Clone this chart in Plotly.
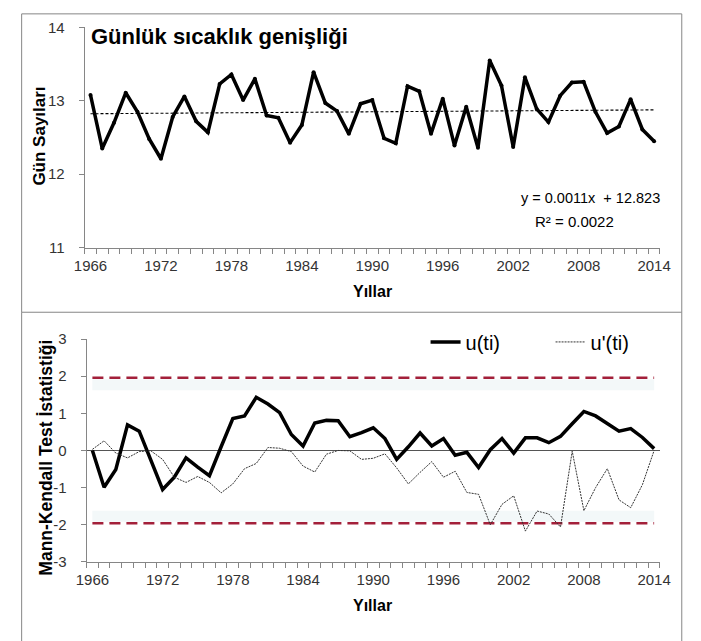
import plotly.graph_objects as go

# ---- data -------------------------------------------------------------
years = list(range(1966, 2015))

# Günlük sıcaklık genişliği (annual values)
gunluk_genislik = [
    13.08, 12.35, 12.70, 13.11, 12.85, 12.48, 12.21, 12.78, 13.06, 12.72,
    12.57, 13.23, 13.36, 13.01, 13.30, 12.80, 12.77, 12.43, 12.67, 13.39,
    12.97, 12.86, 12.55, 12.96, 13.01, 12.49, 12.42, 13.20, 13.13, 12.55,
    13.03, 12.39, 12.92, 12.36, 13.55, 13.21, 12.37, 13.32, 12.89, 12.71,
    13.07, 13.25, 13.26, 12.85, 12.56, 12.65, 13.02, 12.61, 12.45,
]

# linear trend  y = a*x + b  (x = 1..n)
trend_slope = 0.0011
trend_intercept = 12.823
r_squared = 0.0022

# Mann-Kendall sequential statistics
u_ti = [
    0.00, -0.99, -0.51, 0.69, 0.52, -0.25, -1.05, -0.72, -0.20, -0.45,
    -0.68, 0.10, 0.86, 0.93, 1.43, 1.25, 1.02, 0.43, 0.12, 0.74,
    0.81, 0.80, 0.37, 0.48, 0.61, 0.32, -0.24, 0.10, 0.47, 0.12,
    0.32, -0.13, -0.05, -0.46, 0.02, 0.32, -0.07, 0.34, 0.34, 0.21,
    0.38, 0.72, 1.05, 0.93, 0.72, 0.52, 0.59, 0.35, 0.05,
]
u_prime_ti = [
    0.03, 0.26, -0.07, -0.20, -0.03, -0.01, -0.24, -0.72, -0.86, -0.70,
    -0.86, -1.14, -0.90, -0.49, -0.35, 0.08, 0.06, -0.03, -0.42, -0.58,
    -0.10, 0.00, -0.01, -0.24, -0.21, -0.09, -0.47, -0.90, -0.59, -0.30,
    -0.72, -0.56, -1.13, -1.18, -2.00, -1.45, -1.22, -2.17, -1.63, -1.71,
    -2.06, -0.02, -1.62, -1.00, -0.49, -1.33, -1.54, -0.92, 0.00,
]
critical_z = 1.96

x_tick_years = list(range(1966, 2015, 6))
top_y_ticks = [11, 12, 13, 14]
bottom_y_ticks = [-3, -2, -1, 0, 1, 2, 3]

# ---- helpers ------------------------------------------------------------
W, H = 701, 641


def px_x(p):
    return p / W


def px_y(p):
    return 1 - p / H


FONT = "Liberation Sans, Arial, sans-serif"
AXIS_GRAY = "#868686"
TICK_FONT = dict(family=FONT, size=15, color="#333333")
RED = "#A3203A"

n = len(years)
trend_vals = [trend_intercept + trend_slope * (i + 1) for i in range(n)]

fig = go.Figure()

# top panel
fig.add_trace(go.Scatter(
    x=years, y=gunluk_genislik, mode="lines+markers",
    line=dict(color="black", width=3.5), marker=dict(color="black", size=4),
    xaxis="x", yaxis="y", showlegend=False, hoverinfo="x+y"))
fig.add_trace(go.Scatter(
    x=years, y=trend_vals, mode="lines",
    line=dict(color="black", width=1.1, dash="3px,2px"),
    xaxis="x", yaxis="y", showlegend=False))

# bottom panel: critical bounds
for sign in (1, -1):
    fig.add_trace(go.Scatter(
        x=years, y=[sign * critical_z] * n, mode="lines",
        line=dict(color=RED, width=2.5, dash="11px,6px"),
        xaxis="x2", yaxis="y2", showlegend=False, hoverinfo="skip"))

fig.add_trace(go.Scatter(
    x=years, y=u_ti, mode="lines", name="u(ti)",
    line=dict(color="black", width=3.5),
    xaxis="x2", yaxis="y2"))
fig.add_trace(go.Scatter(
    x=years, y=u_prime_ti, mode="lines", name="u'(ti)",
    line=dict(color="#333333", width=1, dash="2px,1px"),
    xaxis="x2", yaxis="y2"))

x_common = dict(
    range=[years[0] - 0.5, years[-1] + 0.5],
    tickmode="array", tickvals=x_tick_years,
    ticktext=[str(v) for v in x_tick_years],
    ticks="", tickfont=TICK_FONT,
    showgrid=False, zeroline=False,
    showline=True, linecolor=AXIS_GRAY, linewidth=1,
    minor=dict(ticks="outside", ticklen=5, tickcolor=AXIS_GRAY,
               tick0=years[0] - 0.5, dtick=1, showgrid=False),
    ticklabelstandoff=4, fixedrange=True,
)

fig.update_layout(
    width=W, height=H,
    margin=dict(l=0, r=0, t=0, b=0),
    paper_bgcolor="white", plot_bgcolor="white",
    font=dict(family=FONT, color="black"),
    xaxis=dict(domain=[px_x(76), px_x(670)], anchor="y", **x_common),
    yaxis=dict(domain=[px_y(245), px_y(19)], anchor="x",
               range=[11, 14], tickvals=top_y_ticks,
               ticks="outside", ticklen=5, tickcolor=AXIS_GRAY,
               tickfont=TICK_FONT, showgrid=False, zeroline=False,
               showline=True, linecolor=AXIS_GRAY, linewidth=1,
               ticklabelstandoff=11, fixedrange=True),
    xaxis2=dict(domain=[px_x(78), px_x(670)], anchor="y2", **x_common),
    yaxis2=dict(domain=[px_y(568), px_y(339)], anchor="x2",
                range=[-3, 3], tickmode="array", tickvals=bottom_y_ticks,
                ticktext=[str(v) for v in bottom_y_ticks],
                ticks="outside", ticklen=5, tickcolor=AXIS_GRAY,
                tickfont=TICK_FONT, showgrid=False,
                zeroline=True, zerolinecolor="#555555", zerolinewidth=1,
                showline=True, linecolor=AXIS_GRAY, linewidth=1,
                ticklabelstandoff=11, fixedrange=True),
    legend=dict(orientation="h", x=px_x(428), y=px_y(342),
                xanchor="left", yanchor="middle",
                font=dict(family=FONT, size=20, color="black"),
                bgcolor="rgba(0,0,0,0)", entrywidth=80, tracegroupgap=0),
    showlegend=True,
)

# faint halo bands beside the critical lines
for y0, y1 in ((1.62, 1.92), (-1.92, -1.62)):
    fig.add_shape(type="rect", xref="x2", yref="y2",
                  x0=years[0], x1=years[-1], y0=y0, y1=y1,
                  fillcolor="rgba(232,241,244,0.5)", line=dict(width=0),
                  layer="below")

# panel frames
fig.add_shape(type="rect", xref="paper", yref="paper",
              x0=px_x(11), x1=px_x(692.5), y0=px_y(311.5), y1=px_y(5),
              line=dict(color=AXIS_GRAY, width=1), fillcolor="rgba(0,0,0,0)")
for xp in (11, 692.5):
    fig.add_shape(type="line", xref="paper", yref="paper",
                  x0=px_x(xp), x1=px_x(xp), y0=px_y(311.5), y1=px_y(660),
                  line=dict(color=AXIS_GRAY, width=1))

# texts
def note(text, x, y, size, bold=False, angle=0, xanchor="center"):
    fig.add_annotation(
        text=f"<b>{text}</b>" if bold else text,
        xref="paper", yref="paper", x=px_x(x), y=px_y(y),
        xanchor=xanchor, yanchor="middle", showarrow=False, textangle=angle,
        font=dict(family=FONT, size=size, color="black"))


note("Günlük sıcaklık genişliği", 81, 28, 22, bold=True, xanchor="left")
note("Gün Sayıları", 29, 131, 17, bold=True, angle=-90)
note("Yıllar", 373, 290, 16, bold=True)
note(f"y = {trend_slope:.4f}x  + {trend_intercept:.3f}", 598, 194, 14.5)
note(f"R² = {r_squared:.4f}", 582, 218, 15)
note("Mann-Kendall Test İstatistiği", 36, 461, 17.5, bold=True, angle=-90)
note("Yıllar", 373, 613, 16, bold=True)

fig.write_html("out.html")
